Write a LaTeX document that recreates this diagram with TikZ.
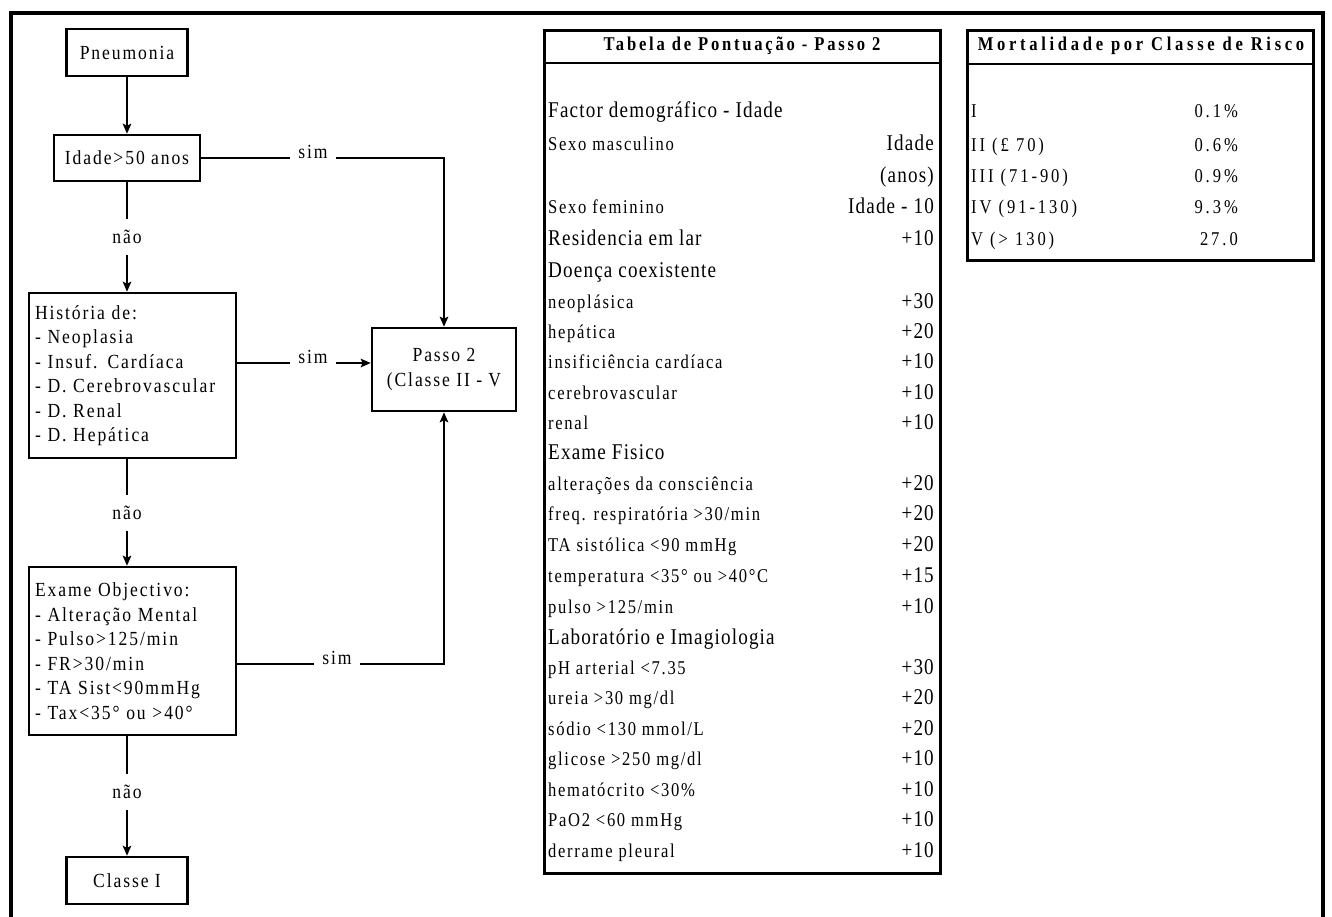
\documentclass[tikz,border=0pt]{standalone}
\usepackage{fontspec}
\setmainfont{Liberation Serif}
\newfontfamily\fcfont[LetterSpace=9.5, FakeStretch=0.88]{Liberation Serif}
\newfontfamily\bigfnt[LetterSpace=5.2, FakeStretch=0.85]{Liberation Serif}
\newfontfamily\smfnt[LetterSpace=8.7, FakeStretch=0.85]{Liberation Serif}
\newfontfamily\hdrA[LetterSpace=14.3, FakeStretch=0.85]{Liberation Serif}
\newfontfamily\hdrB[LetterSpace=19, FakeStretch=0.85]{Liberation Serif}
\newfontfamily\rtfnt[LetterSpace=15, FakeStretch=0.85]{Liberation Serif}
\usetikzlibrary{arrows.meta}
\tikzset{
  fcbox/.style={draw, line width=2.5pt, font=\fcfont\fontsize{20}{24.5}\selectfont, inner sep=0pt},
  lbl/.style={font=\fcfont\fontsize{20}{24.5}\selectfont, inner xsep=8pt, inner ysep=11pt},
  ln/.style={line width=2.3pt},
  arr/.style={ln, -{Stealth[length=10pt,width=8.5pt,inset=2pt]}},
  tbl/.style={draw, line width=2.5pt, inner sep=0pt, anchor=north west},
  hdrmid/.style={font=\hdrA\bfseries\fontsize{19.5}{22}\selectfont, inner sep=0pt},
  hdrrt/.style={font=\hdrB\bfseries\fontsize{19.5}{22}\selectfont, inner sep=0pt},
  bigrow/.style={font=\bigfnt\fontsize{22.5}{26}\selectfont, inner sep=0pt, anchor=mid west},
  smrow/.style={font=\smfnt\fontsize{19.5}{24}\selectfont, inner sep=0pt, anchor=mid west},
  val/.style={font=\bigfnt\fontsize{22.5}{26}\selectfont, inner sep=0pt, anchor=mid east},
  rtrow/.style={font=\rtfnt\fontsize{19.5}{24}\selectfont, inner sep=0pt, anchor=mid west},
  rtval/.style={font=\rtfnt\fontsize{19.5}{24}\selectfont, inner sep=0pt, anchor=mid east},
}
\begin{document}
\begin{tikzpicture}[x=1pt, y=-1pt]
\useasboundingbox (0,0) rectangle (1332,916);
\begin{scope}
  \clip (0,0) rectangle (1332,916);
  \draw[line width=4pt] (10.5,13) rectangle (1323,1000);
\end{scope}

% ---------- flowchart ----------
\node[fcbox, minimum width=121pt, minimum height=47pt] (pneu) at (127,52.5) {Pneumonia};
\node[fcbox, minimum width=146pt, minimum height=46pt] (idade) at (127,158) {Idade>50 anos};
\node[fcbox, minimum width=207pt, minimum height=165pt, text width=195pt, align=left] (hist) at (132.5,375.5)
  {História de:\\- Neoplasia\\- Insuf. Cardíaca\\- D. Cerebrovascular\\- D. Renal\\- D. Hepática};
\node[fcbox, minimum width=144pt, minimum height=83pt, align=center] (passo) at (444,369.5) {Passo 2\\(Classe II - V};
\node[fcbox, minimum width=207pt, minimum height=168pt, text width=195pt, align=left] (exame) at (132.5,651)
  {Exame Objectivo:\\- Alteração Mental\\- Pulso>125/min\\- FR>30/min\\- TA Sist<90mmHg\\- Tax<35° ou >40°};
\node[fcbox, minimum width=121pt, minimum height=47pt] (classe) at (127,880.5) {Classe I};

\node[lbl] (nao1) at (127,237) {não};
\node[lbl] (nao2) at (127,513) {não};
\node[lbl] (nao3) at (127,792) {não};
\node[lbl, anchor=base] (sim1) at (313,158) {sim};
\node[lbl, anchor=base] (sim2) at (313,363) {sim};
\node[lbl, anchor=base] (sim3) at (337,664) {sim};

\draw[arr] (pneu.south) -- (idade.north);
\draw[ln] (idade.south) -- (nao1.north);
\draw[arr] (nao1.south) -- (nao1 |- hist.north);
\draw[ln] (hist.south -| nao2) -- (nao2.north);
\draw[arr] (nao2.south) -- (nao2 |- exame.north);
\draw[ln] (exame.south -| nao3) -- (nao3.north);
\draw[arr] (nao3.south) -- (classe.north);
\draw[ln] (idade.east) -- (sim1.base west);
\draw[arr] (sim1.base east) -| (passo.north);
\draw[ln] (hist.east |- sim2.base) -- (sim2.base west);
\draw[arr] (sim2.base east) -- (passo.west |- sim2.base);
\draw[ln] (exame.east |- sim3.base) -- (sim3.base west);
\draw[arr] (sim3.base east) -| (passo.south);

% ---------- scoring table ----------
\node[tbl, minimum width=396pt, minimum height=843pt] (t1) at (543,29) {};
\draw[line width=2pt] (t1.west |- 0,63) -- (t1.east |- 0,63);
\node[hdrmid] (t1h) at (742,46) {Tabela de Pontuação - Passo 2};

\node[bigrow] (a1) at (548,115) {Factor demográfico - Idade};
\node[smrow]  (a2) at (548,148) {Sexo masculino};
\node[val]    (b2) at (934,148) {Idade};
\node[val]    (b3) at (934,180) {(anos)};
\node[smrow]  (a4) at (548,211) {Sexo feminino};
\node[val]    (b4) at (934,211) {Idade - 10};
\node[bigrow] (a5) at (548,243) {Residencia em lar};
\node[val]    (b5) at (934,243) {+10};
\node[bigrow] (a6) at (548,275) {Doença coexistente};
\node[smrow]  (a7) at (548,306) {neoplásica};
\node[val]    (b7) at (934,306) {+30};
\node[smrow]  (a8) at (548,336) {hepática};
\node[val]    (b8) at (934,336) {+20};
\node[smrow]  (a9) at (548,366) {insificiência cardíaca};
\node[val]    (b9) at (934,366) {+10};
\node[smrow]  (a10) at (548,397) {cerebrovascular};
\node[val]    (b10) at (934,397) {+10};
\node[smrow]  (a11) at (548,427) {renal};
\node[val]    (b11) at (934,427) {+10};
\node[bigrow] (a12) at (548,457) {Exame Fisico};
\node[smrow]  (a13) at (548,488) {alterações da consciência};
\node[val]    (b13) at (934,488) {+20};
\node[smrow]  (a14) at (548,518) {freq. respiratória >30/min};
\node[val]    (b14) at (934,518) {+20};
\node[smrow]  (a15) at (548,549) {TA sistólica <90 mmHg};
\node[val]    (b15) at (934,549) {+20};
\node[smrow]  (a16) at (548,580) {temperatura <35° ou >40°C};
\node[val]    (b16) at (934,580) {+15};
\node[smrow]  (a17) at (548,611) {pulso >125/min};
\node[val]    (b17) at (934,611) {+10};
\node[bigrow] (a18) at (548,642) {Laboratório e Imagiologia};
\node[smrow]  (a19) at (548,672) {pH arterial <7.35};
\node[val]    (b19) at (934,672) {+30};
\node[smrow]  (a20) at (548,702) {ureia >30 mg/dl};
\node[val]    (b20) at (934,702) {+20};
\node[smrow]  (a21) at (548,733) {sódio <130 mmol/L};
\node[val]    (b21) at (934,733) {+20};
\node[smrow]  (a22) at (548,763) {glicose >250 mg/dl};
\node[val]    (b22) at (934,763) {+10};
\node[smrow]  (a23) at (548,794) {hematócrito <30\%};
\node[val]    (b23) at (934,794) {+10};
\node[smrow]  (a24) at (548,824) {PaO2 <60 mmHg};
\node[val]    (b24) at (934,824) {+10};
\node[smrow]  (a25) at (548,855) {derrame pleural};
\node[val]    (b25) at (934,855) {+10};

% ---------- mortality table ----------
\node[tbl, minimum width=346pt, minimum height=230pt] (t2) at (966,29) {};
\draw[line width=2pt] (t2.west |- 0,64) -- (t2.east |- 0,64);
\node[hdrrt] (t2h) at (1141,46) {Mortalidade por Classe de Risco};

\node[rtrow] (c1) at (971,115) {I};
\node[rtval] (d1) at (1238,115) {0.1\%};
\node[rtrow] (c2) at (971,149) {II (£ 70)};
\node[rtval] (d2) at (1238,149) {0.6\%};
\node[rtrow] (c3) at (971,180) {III (71-90)};
\node[rtval] (d3) at (1238,180) {0.9\%};
\node[rtrow] (c4) at (971,211) {IV (91-130)};
\node[rtval] (d4) at (1238,211) {9.3\%};
\node[rtrow] (c5) at (971,243) {V (> 130)};
\node[rtval] (d5) at (1238,243) {27.0};
\end{tikzpicture}
\end{document}
